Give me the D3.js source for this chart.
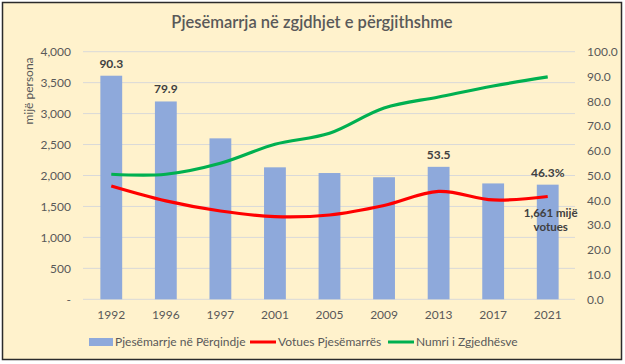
<!DOCTYPE html>
<html><head><meta charset="utf-8">
<script src="https://cdn.jsdelivr.net/npm/d3@7"></script>
<style>body{margin:0;background:#fff}svg{display:block}</style>
</head><body>
<svg id="c" width="625" height="364"></svg>
<script>
const years = ["1992","1996","1997","2001","2005","2009","2013","2017","2021"];
const turnoutPct = [90.3, 79.9, 65.0, 53.3, 51.0, 49.3, 53.5, 46.8, 46.3];
const voters = [1830, 1590, 1426, 1335, 1362, 1515, 1742, 1605, 1661];
const electorate = [2020, 2020, 2197, 2504, 2682, 3090, 3268, 3446, 3592];
const leftTicks = [0, 500, 1000, 1500, 2000, 2500, 3000, 3500, 4000];
const rightTicks = [0, 10, 20, 30, 40, 50, 60, 70, 80, 90, 100];
const pctLabels = {"1992":"90.3","1996":"79.9","2013":"53.5","2021":"46.3%"};

const svg = d3.select("#c");
const font = "Lato, 'Open Sans', sans-serif";
const textCol = "#595959";
svg.append("rect").attr("x",2.5).attr("y",2.5).attr("width",619).attr("height",357)
  .attr("fill","#FFF2CC").attr("stroke","#2b2b2b").attr("stroke-width",1.5);

const L = 84, R = 575, T = 51.7, B = 299.3;
const x = d3.scaleBand().domain(years).range([L, R]).paddingInner(0.6).paddingOuter(0.3);
const yL = d3.scaleLinear().domain([0, 4000]).range([B, T]);
const yR = d3.scaleLinear().domain([0, 100]).range([B, T]);

// gridlines
svg.append("g").selectAll("line").data(leftTicks).join("line")
  .attr("x1", L-1).attr("x2", R).attr("y1", d=>yL(d)).attr("y2", d=>yL(d))
  .attr("stroke","#d9d9d9").attr("stroke-width",1);

// axes
const axL = svg.append("g").attr("transform",`translate(${L-1},0)`)
  .call(d3.axisLeft(yL).tickValues(leftTicks).tickSize(0).tickPadding(12)
    .tickFormat(d => d===0 ? "-" : d3.format(",")(d)));
const axR = svg.append("g").attr("transform",`translate(${R},0)`)
  .call(d3.axisRight(yR).tickValues(rightTicks).tickSize(0).tickPadding(12)
    .tickFormat(d3.format(".1f")));
const axB = svg.append("g").attr("transform",`translate(0,${B})`)
  .call(d3.axisBottom(x).tickSize(0).tickPadding(11));
[axL, axR, axB].forEach(a => {
  a.select(".domain").remove();
  a.selectAll("text").attr("font-family", font).attr("font-size", 12).attr("fill", textCol);
});

// bars
svg.append("g").selectAll("rect").data(years).join("rect")
  .attr("x", d=>x(d)).attr("width", x.bandwidth())
  .attr("y", (d,i)=>yR(turnoutPct[i])).attr("height", (d,i)=>B - yR(turnoutPct[i]))
  .attr("fill","#8EA9DB");

const cx = d => x(d) + x.bandwidth()/2;
const line = d3.line().x(d=>cx(d[0])).y(d=>yL(d[1])).curve(d3.curveCatmullRom.alpha(0.5));
svg.append("path").datum(years.map((y,i)=>[y, electorate[i]]))
  .attr("d", line).attr("fill","none").attr("stroke","#00B050").attr("stroke-width",3.2);
svg.append("path").datum(years.map((y,i)=>[y, voters[i]]))
  .attr("d", line).attr("fill","none").attr("stroke","#FF0000").attr("stroke-width",3.2);

// data labels
svg.append("g").selectAll("text").data(years.filter(y=>pctLabels[y])).join("text")
  .attr("x", d=>cx(d)).attr("y", d=>yR(turnoutPct[years.indexOf(d)]) - 8)
  .attr("text-anchor","middle").attr("font-family",font).attr("font-weight","bold")
  .attr("font-size",12).attr("fill","#404040").text(d=>pctLabels[d]);
const last = years[years.length-1];
const vt = svg.append("text").attr("text-anchor","middle").attr("font-family",font)
  .attr("font-weight","bold").attr("font-size",11.5).attr("fill","#404040");
vt.append("tspan").attr("x", cx(last)+3).attr("y", yL(voters[8]) + 21).text(d3.format(",")(voters[8]) + " mijë");
vt.append("tspan").attr("x", cx(last)+3).attr("y", yL(voters[8]) + 35).text("votues");

// title
svg.append("text").attr("x", 312).attr("y", 28).attr("text-anchor","middle")
  .attr("font-family",font).attr("font-size",16.5).attr("font-weight",600).attr("fill",textCol)
  .text("Pjesëmarrja në zgjdhjet e përgjithshme");
// y title
svg.append("text").attr("transform","translate(33,91) rotate(-90)").attr("text-anchor","middle")
  .attr("font-family",font).attr("font-size",12).attr("fill",textCol).text("mijë persona");

// legend
const lg = svg.append("g").attr("font-family",font).attr("font-size",12).attr("fill",textCol);
const ly = 342;
lg.append("rect").attr("x",89).attr("y",ly-4).attr("width",24).attr("height",8).attr("fill","#8EA9DB");
lg.append("text").attr("x",115).attr("y",ly+4).text("Pjesëmarrje në Përqindje");
lg.append("line").attr("x1",250).attr("x2",276).attr("y1",ly).attr("y2",ly).attr("stroke","#FF0000").attr("stroke-width",3);
lg.append("text").attr("x",278).attr("y",ly+4).text("Votues Pjesëmarrës");
lg.append("line").attr("x1",388).attr("x2",414).attr("y1",ly).attr("y2",ly).attr("stroke","#00B050").attr("stroke-width",3);
lg.append("text").attr("x",416).attr("y",ly+4).text("Numri i Zgjedhësve");
</script>
</body></html>
